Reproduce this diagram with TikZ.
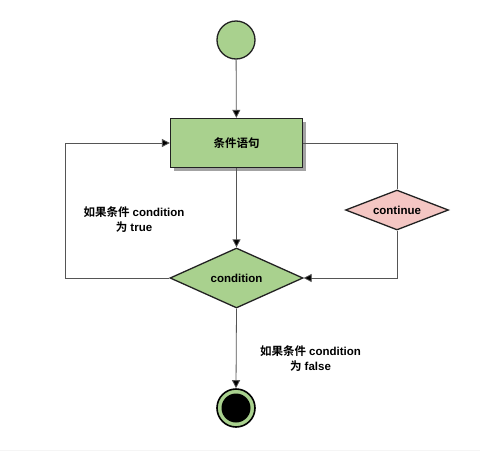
\documentclass[tikz,border=0pt]{standalone}
\usepackage{fontspec}
\setmainfont{Liberation Sans}
\newfontfamily\cjk{Noto Sans CJK SC}[BoldFont={* Bold}]
\newcommand\zh[1]{{\cjk #1}}
\usetikzlibrary{shapes.geometric,arrows.meta,shadows}
\definecolor{gfill}{HTML}{A9D18E}
\definecolor{pfill}{HTML}{F4C6C3}
\definecolor{lnc}{HTML}{222222}
\definecolor{cnc}{HTML}{555555}
\begin{document}
\begin{tikzpicture}[x=1pt,y=-1pt,
  font=\bfseries\fontsize{11.5}{13}\selectfont,
  shp/.style={draw=lnc,line width=1.3pt},
  conn/.style={draw=cnc,line width=0.8pt,-{Triangle[length=8pt,width=8pt,fill=black]}},
  plain/.style={draw=cnc,line width=0.8pt},
  lbl/.style={align=center,font=\bfseries\fontsize{11.5}{15}\selectfont}]
\useasboundingbox (0,0) rectangle (480,453);
\fill[white] (0,0) rectangle (480,453);
\draw[gray!8,line width=0.8pt] (0,450) -- (480,450);
\node[shp,circle,fill=gfill,minimum size=38pt,inner sep=0pt] (start) at (236,40) {};
\node[shp,rectangle,fill=gfill,minimum width=132pt,minimum height=49pt,inner sep=0pt,
  drop shadow={shadow xshift=3pt,shadow yshift=-3pt,fill=gray!80,opacity=0.9}] (stmt) at (236.5,143) {\zh{条件语句}};
\node[shp,diamond,fill=gfill,minimum width=133pt,minimum height=60pt,inner sep=0pt,aspect=2.2] (cond) at (236.5,278) {condition};
\node[shp,diamond,fill=pfill,minimum width=103pt,minimum height=40pt,inner sep=0pt,aspect=2.6] (cont) at (397,210) {continue};
\node[circle,draw=black,line width=1.6pt,fill=gfill,minimum size=38pt,inner sep=0pt] (stopo) at (236,408) {};
\node[circle,fill=black,minimum size=29pt,inner sep=0pt] (stop) at (236,408) {};
\coordinate (lbot) at (65,278);
\coordinate (ltop) at (65,143);
\coordinate (rtop) at (397,143);
\coordinate (rbot) at (397,278);
\draw[conn] (start) -- (stmt);
\draw[conn] (stmt) -- (cond);
\draw[conn] (cond.south) -- (stopo.north);
\draw[conn] (cond.west) -- (lbot) -- (ltop) -- (stmt.west);
\draw[plain] (stmt.east) -- (rtop) -- (cont.north);
\draw[conn] (cont.south) -- (rbot) -- (cond.east);
\node[lbl] (ltrue) at (134,220) {\zh{如果条件} condition\\\zh{为} true};
\node[lbl] (lfalse) at (310.5,359) {\zh{如果条件} condition\\\zh{为} false};
\end{tikzpicture}
\end{document}
